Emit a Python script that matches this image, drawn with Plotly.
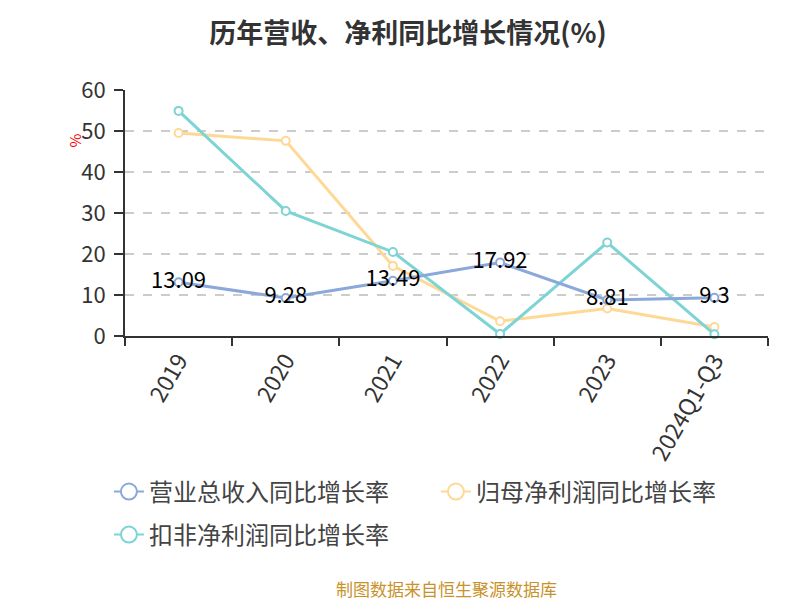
import plotly.graph_objects as go

# data
years = ['2019', '2020', '2021', '2022', '2023', '2024Q1-Q3']
revenue_growth = [13.09, 9.28, 13.49, 17.92, 8.81, 9.3]
net_profit_growth = [49.5, 47.6, 17.1, 3.6, 6.7, 2.2]
deducted_profit_growth = [54.9, 30.5, 20.5, 0.5, 22.8, 0.4]

series_names = ['营业总收入同比增长率', '归母净利润同比增长率', '扣非净利润同比增长率']
colors = ['#8BA8DA', '#FFD895', '#7ED3D4']
legend_groups = ['legend', 'legend', 'legend2']

font_family = 'Noto Sans CJK SC'

fig = go.Figure()

# lines (label series drawn last so its labels stay on top)
for idx in [1, 2, 0]:
    values = [revenue_growth, net_profit_growth, deducted_profit_growth][idx]
    color = colors[idx]
    show_text = idx == 0
    fig.add_trace(go.Scatter(
        x=years, y=values, name=series_names[idx], showlegend=False,
        mode='lines+markers+text' if show_text else 'lines+markers',
        text=[str(v) for v in values] if show_text else None,
        textposition='middle center',
        textfont=dict(size=22, color='#000000', family=font_family),
        line=dict(color=color, width=3),
        marker=dict(symbol='circle', size=8, color='white',
                    line=dict(color=color, width=2)),
        cliponaxis=False,
    ))

# legend-only entries
for name, color, lg in zip(series_names, colors, legend_groups):
    fig.add_trace(go.Scatter(
        x=[None], y=[None], name=name, mode='lines+markers', legend=lg,
        line=dict(color=color, width=2),
        marker=dict(symbol='circle', size=16, color='white',
                    line=dict(color=color, width=2)),
    ))

legend_style = dict(orientation='h', xanchor='left', yanchor='middle',
                    font=dict(size=24, color='#444444'), traceorder='normal',
                    bgcolor='rgba(0,0,0,0)')

fig.update_layout(
    width=800, height=600,
    margin=dict(l=117, r=40, t=82, b=272),
    paper_bgcolor='white', plot_bgcolor='white',
    font=dict(family=font_family, color='#333333'),
    title=dict(text='<b>历年营收、净利同比增长情况(%)</b>', x=0.5, xanchor='center',
               y=0.958, yanchor='middle', font=dict(size=27, color='#333333')),
    showlegend=True,
    legend=dict(x=-0.025, y=-0.634, entrywidth=282, **legend_style),
    legend2=dict(x=-0.025, y=-0.809, **legend_style),
)

fig.update_xaxes(
    type='category', categoryorder='array', categoryarray=years,
    range=[-0.5, 5.5], tickson='boundaries',
    showline=True, linecolor='#333333', linewidth=2,
    ticks='outside', ticklen=8, tickcolor='#333333', tickwidth=2,
    tickangle=-60, tickfont=dict(size=23, color='#333333'),
    showgrid=False, zeroline=False,
)

fig.update_yaxes(
    range=[0, 60], dtick=10, tick0=0,
    showline=True, linecolor='#333333', linewidth=2,
    ticks='outside', ticklen=9, tickcolor='#333333', tickwidth=2,
    ticklabelstandoff=4,
    tickfont=dict(size=22, color='#333333'),
    showgrid=True, gridcolor='#cccccc', griddash='dash', gridwidth=1.5,
    zeroline=False,
)

fig.add_annotation(text='%', xref='paper', yref='paper', x=-0.098, y=0.833,
                   showarrow=False, textangle=-90,
                   font=dict(size=15, color='#ff0000', family=font_family))

fig.add_annotation(text='制图数据来自恒生聚源数据库', xref='paper', yref='paper',
                   x=0.5, xanchor='center', y=-1.025, yanchor='middle',
                   showarrow=False, font=dict(size=17, color='#C8922A', family=font_family))

fig.write_html('out.html')
